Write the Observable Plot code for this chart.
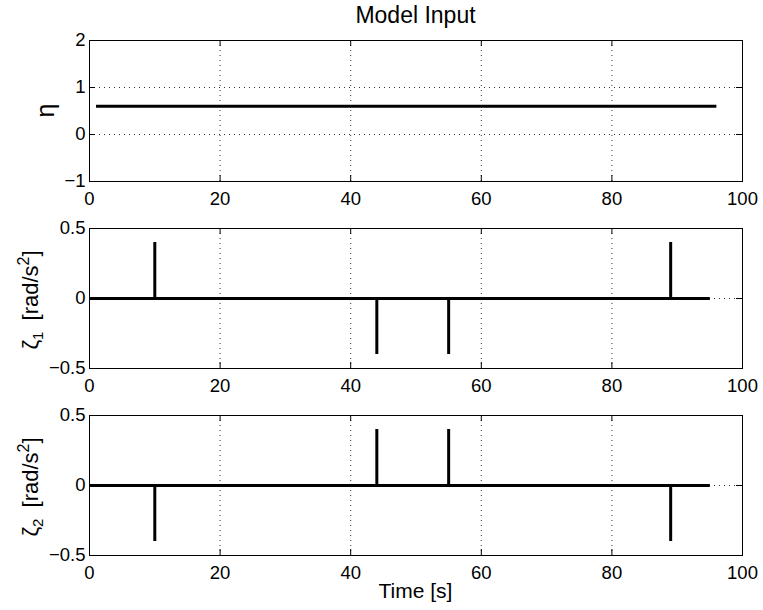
<!DOCTYPE html>
<html>
<head>
<meta charset="utf-8">
<script src="https://cdn.jsdelivr.net/npm/d3@7"></script>
<script src="https://cdn.jsdelivr.net/npm/@observablehq/plot@0.6"></script>
<style>
  html, body { margin: 0; padding: 0; background: white; }
  #chart { position: relative; width: 763px; height: 610px; background: white; overflow: hidden; }
  #chart svg { position: absolute; left: 0; }
</style>
</head>
<body>
<div id="chart"></div>
<script>
// ---- data ----
const titleText = "Model Input";
const xLabelText = "Time [s]";
const xTicks = [0, 20, 40, 60, 80, 100];
const xGridTicks = [20, 40, 60, 80];

const etaTime = [1, 96];
const etaValue = [0.6, 0.6];
const etaTicks = [-1, 0, 1, 2];
const etaGrid = [0, 1];

const zetaTime = [0, 95];
const zetaBase = [0, 0];
const spikeTimes = [10, 44, 55, 89];
const zeta1Spikes = [0.4, -0.4, -0.4, 0.4];
const zeta2Spikes = [-0.4, 0.4, 0.4, -0.4];
const zetaTicks = [-0.5, 0, 0.5];
const zetaGrid = [0];

// ---- layout ----
const W = 763, ML = 89, MR = 21;
const FONT = "'Liberation Sans', Arial, Helvetica, sans-serif";
const container = document.getElementById("chart");
const fmt = d => String(d).replace("-", "\u2212");

function panel({top, height, mt, mb, yDomain, yTicks, yGrid, marks}) {
  const plotH = height - mt - mb;
  const plotW = W - ML - MR;
  const svg = Plot.plot({
    width: W, height,
    marginLeft: ML, marginRight: MR, marginTop: mt, marginBottom: mb,
    x: {domain: [0, 100]},
    y: {domain: yDomain},
    style: {fontFamily: FONT, fontSize: "18.5px", background: "white", color: "black", overflow: "visible"},
    marks: [
      Plot.gridX(xGridTicks, {stroke: "#333", strokeOpacity: 1, strokeWidth: 1, strokeDasharray: "1,4"}),
      Plot.gridY(yGrid, {stroke: "#333", strokeOpacity: 1, strokeWidth: 1, strokeDasharray: "1,4"}),
      ...marks,
      Plot.tickX(xTicks, {x: d => d, insetTop: plotH - 6, stroke: "black"}),
      Plot.tickX(xTicks, {x: d => d, insetBottom: plotH - 6, stroke: "black"}),
      Plot.tickY(yTicks, {y: d => d, insetRight: plotW - 6, stroke: "black"}),
      Plot.tickY(yTicks, {y: d => d, insetLeft: plotW - 6, stroke: "black"}),
      Plot.frame({stroke: "black", strokeWidth: 1}),
      Plot.axisX(xTicks, {tickSize: 0, tickPadding: 10, label: null, fill: "black", tickFormat: fmt}),
      Plot.axisY(yTicks, {tickSize: 0, tickPadding: 4, label: null, fill: "black", tickFormat: fmt})
    ]
  });
  svg.style.top = top + "px";
  container.appendChild(svg);
  return svg;
}

const lineStyle = {stroke: "black", strokeWidth: 3, strokeLinecap: "butt"};

const svg1 = panel({
  top: 0, height: 210, mt: 40, mb: 29,
  yDomain: [-1, 2], yTicks: etaTicks, yGrid: etaGrid,
  marks: [Plot.line(etaTime.map((t, i) => ({t, v: etaValue[i]})), {x: "t", y: "v", ...lineStyle})]
});

function zetaMarks(spikes) {
  return [
    Plot.line(zetaTime.map((t, i) => ({t, v: zetaBase[i]})), {x: "t", y: "v", ...lineStyle}),
    Plot.ruleX(spikeTimes.map((t, i) => ({t, v: spikes[i]})), {x: "t", y1: 0, y2: "v", stroke: "black", strokeWidth: 3})
  ];
}

const svg2 = panel({
  top: 210, height: 190, mt: 18, mb: 32,
  yDomain: [-0.5, 0.5], yTicks: zetaTicks, yGrid: zetaGrid,
  marks: zetaMarks(zeta1Spikes)
});

const svg3 = panel({
  top: 400, height: 210, mt: 15, mb: 55,
  yDomain: [-0.5, 0.5], yTicks: zetaTicks, yGrid: zetaGrid,
  marks: zetaMarks(zeta2Spikes)
});

// ---- titles and labels ----
const cx = ML + (W - ML - MR) / 2;
d3.select(svg1).append("text")
  .attr("x", cx).attr("y", 23)
  .attr("text-anchor", "middle").attr("fill", "black")
  .style("font-size", "23px").style("font-family", FONT)
  .text(titleText);

d3.select(svg1).append("text")
  .attr("transform", `translate(54,${40 + 141 / 2}) rotate(-90)`)
  .attr("text-anchor", "middle").attr("fill", "black")
  .style("font-size", "25px").style("font-family", FONT)
  .text("η");

function zetaLabel(svg, sub, centerY) {
  const t = d3.select(svg).append("text")
    .attr("transform", `translate(38,${centerY}) rotate(-90)`)
    .attr("text-anchor", "middle").attr("fill", "black")
    .style("font-size", "22px").style("font-family", FONT);
  t.append("tspan").text("ζ");
  t.append("tspan").attr("dy", 5).style("font-size", "15px").text(sub);
  t.append("tspan").attr("dy", -5).attr("dx", 5).text("\u00a0[rad/s");
  t.append("tspan").attr("dy", -9).style("font-size", "16px").text("2");
  t.append("tspan").attr("dy", 9).text("]");
}
zetaLabel(svg2, "1", 18 + 72);
zetaLabel(svg3, "2", 15 + 72);

d3.select(svg3).append("text")
  .attr("x", cx).attr("y", 198)
  .attr("text-anchor", "middle").attr("fill", "black")
  .style("font-size", "21px").style("font-family", FONT)
  .text(xLabelText);
</script>
</body>
</html>
